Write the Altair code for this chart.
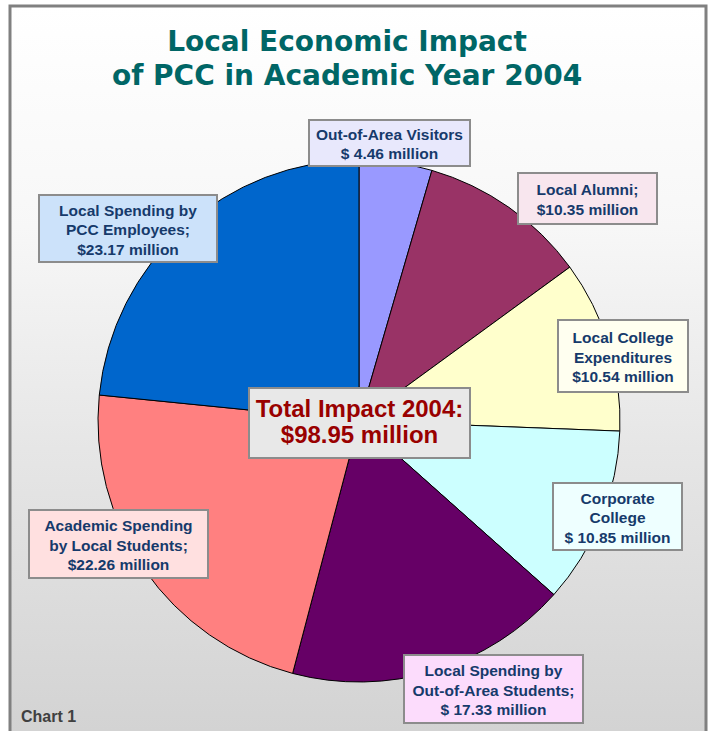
import altair as alt
import pandas as pd

# ---- data ----
categories = ["Out-of-Area Visitors", "Local Alumni", "Local College Expenditures",
              "Corporate College", "Local Spending by Out-of-Area Students",
              "Academic Spending by Local Students", "Local Spending by PCC Employees"]
values = [4.46, 10.35, 10.54, 10.85, 17.33, 22.26, 23.17]
label_texts = [
    ["Out-of-Area Visitors", "$ 4.46 million"],
    ["Local Alumni;", "$10.35 million"],
    ["Local College", "Expenditures", "$10.54 million"],
    ["Corporate", "College", "$ 10.85 million"],
    ["Local Spending by", "Out-of-Area Students;", "$ 17.33 million"],
    ["Academic Spending", "by Local Students;", "$22.26 million"],
    ["Local Spending by", "PCC Employees;", "$23.17 million"],
]
total_text = ["Total Impact 2004:", "$98.95 million"]
title_lines = ["Local Economic Impact", "of PCC in Academic Year 2004"]
footer_text = "Chart 1"

# ---- styles / layout ----
slice_colors = ["#9999FF", "#993366", "#FFFFCC", "#CCFFFF", "#660066", "#FF8080", "#0066CC"]
box_fills = ["#E8E8FC", "#F8E6EE", "#FFFFF0", "#EEFFFF", "#FCDCFC", "#FFE0E0", "#CCE2FA"]
label_boxes = [  # x1, x2, y1, y2 in page pixels
    (309, 470, 120, 166),
    (518, 657, 173, 224),
    (558, 688, 320, 392),
    (553, 682, 483, 550),
    (404, 583, 655, 723),
    (29, 208, 510, 578),
    (39, 217, 195, 262),
]
total_box = (249, 470, 388, 458)
W, H = 711, 731
CX, CY, R = 359, 421, 261
LH = 19.5
TLH = 26

xs = alt.Scale(domain=[0, W], range=[0, W])
ys = alt.Scale(domain=[0, H], range=[0, H])

pie_df = pd.DataFrame({"category": categories, "value": values, "idx": list(range(len(values)))})

boxes_df = pd.DataFrame({
    "x1": [b[0] for b in label_boxes] + [total_box[0]],
    "x2": [b[1] for b in label_boxes] + [total_box[1]],
    "y1": [b[2] for b in label_boxes] + [total_box[2]],
    "y2": [b[3] for b in label_boxes] + [total_box[3]],
    "fill": box_fills + ["#E8E8E8"],
})

rows = []
for b, lines in zip(label_boxes, label_texts):
    cx, cy = (b[0] + b[1]) / 2, (b[2] + b[3]) / 2
    n = len(lines)
    for i, t in enumerate(lines):
        rows.append({"x": cx, "y": cy + (i - (n - 1) / 2) * LH, "text": t})
lab_df = pd.DataFrame(rows)

tcx, tcy = (total_box[0] + total_box[1]) / 2, (total_box[2] + total_box[3]) / 2
tot_df = pd.DataFrame({"x": [tcx, tcx],
                       "y": [tcy - TLH / 2, tcy + TLH / 2],
                       "text": total_text})
title_df = pd.DataFrame({"x": [347, 347], "y": [43, 77], "text": title_lines})
foot_df = pd.DataFrame({"x": [21], "y": [717], "text": [footer_text]})
frame_df = pd.DataFrame({"x1": [10], "x2": [706], "y1": [6], "y2": [745]})

gradient = {
    "gradient": "linear", "x1": 0, "y1": 0, "x2": 0, "y2": 1,
    "stops": [
        {"offset": 0, "color": "#ffffff"},
        {"offset": 0.3, "color": "#f7f7f7"},
        {"offset": 0.6, "color": "#e6e6e6"},
        {"offset": 1, "color": "#d2d2d2"},
    ],
}

frame = alt.Chart(frame_df).mark_rect(fill=gradient, stroke="#808080", strokeWidth=3).encode(
    x=alt.X("x1:Q", scale=xs, axis=None), x2="x2:Q",
    y=alt.Y("y1:Q", scale=ys, axis=None), y2="y2:Q",
)

pie = alt.Chart(pie_df).mark_arc(radius=R, stroke="black", strokeWidth=1).encode(
    theta=alt.Theta("value:Q", stack=True),
    color=alt.Color("category:N", scale=alt.Scale(domain=categories, range=slice_colors), legend=None),
    order=alt.Order("idx:Q"),
    x=alt.value(CX), y=alt.value(CY),
)

boxes = alt.Chart(boxes_df).mark_rect(stroke="#8c8c8c", strokeWidth=2).encode(
    x=alt.X("x1:Q", scale=xs, axis=None), x2="x2:Q",
    y=alt.Y("y1:Q", scale=ys, axis=None), y2="y2:Q",
    fill=alt.Fill("fill:N", scale=None),
)

labels = alt.Chart(lab_df).mark_text(
    font="Liberation Sans", fontWeight="bold", fontSize=15.5, color="#163a6b",
    align="center", baseline="middle", dy=1.5,
).encode(x=alt.X("x:Q", scale=xs, axis=None), y=alt.Y("y:Q", scale=ys, axis=None), text="text:N")

total = alt.Chart(tot_df).mark_text(
    font="Liberation Sans", fontWeight="bold", fontSize=24, color="#990000",
    align="center", baseline="middle",
).encode(x=alt.X("x:Q", scale=xs, axis=None), y=alt.Y("y:Q", scale=ys, axis=None), text="text:N")

title = alt.Chart(title_df).mark_text(
    font="DejaVu Sans", fontWeight="bold", fontSize=28, color="#006666",
    align="center", baseline="middle",
).encode(x=alt.X("x:Q", scale=xs, axis=None), y=alt.Y("y:Q", scale=ys, axis=None), text="text:N")

foot = alt.Chart(foot_df).mark_text(
    font="Liberation Sans", fontWeight="bold", fontSize=16, color="#404040",
    align="left", baseline="middle",
).encode(x=alt.X("x:Q", scale=xs, axis=None), y=alt.Y("y:Q", scale=ys, axis=None), text="text:N")

chart = alt.layer(frame, pie, boxes, labels, total, title, foot).properties(
    width=W, height=H, autosize=alt.AutoSizeParams(type="none"), padding=0, background="white",
).configure_view(stroke=None)

chart.save("out.html", embed_options={"renderer": "svg", "actions": False})
